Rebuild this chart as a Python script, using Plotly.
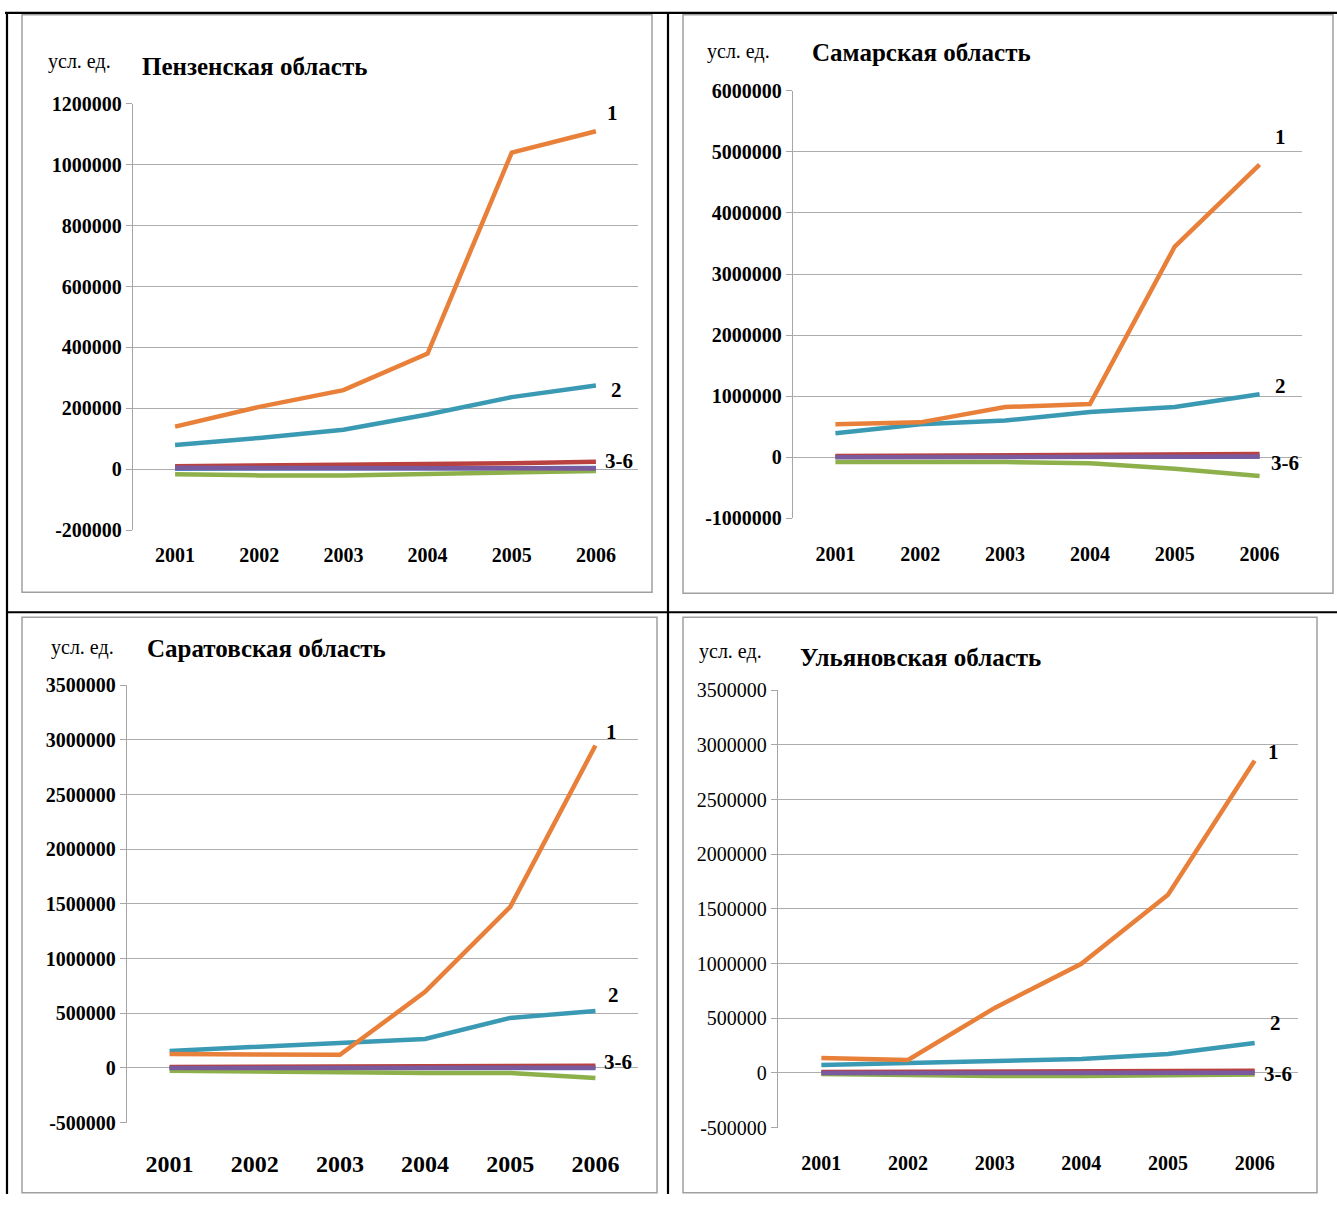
import plotly.graph_objects as go

W, H = 1337, 1205

years = [2001, 2002, 2003, 2004, 2005, 2006]
year_labels = ["2001", "2002", "2003", "2004", "2005", "2006"]

# Пензенская область
penza_1 = [140000, 205000, 260000, 380000, 1040000, 1110000]
penza_2 = [80000, 103000, 130000, 180000, 237000, 275000]
penza_3 = [2000, 2000, 3000, 3000, 4000, 4000]
penza_4 = [10000, 12000, 14000, 16000, 20000, 25000]
penza_5 = [-16000, -20000, -20000, -16000, -10000, -6000]
penza_6 = [5000, 5000, 5000, 4000, 4000, 3000]
penza_ticks = [-200000, 0, 200000, 400000, 600000, 800000, 1000000, 1200000]

# Самарская область
samara_1 = [540000, 570000, 820000, 870000, 3450000, 4790000]
samara_2 = [390000, 540000, 600000, 740000, 820000, 1030000]
samara_3 = [5000, 5000, 5000, 5000, 5000, 5000]
samara_4 = [20000, 25000, 30000, 35000, 45000, 50000]
samara_5 = [-80000, -80000, -80000, -100000, -190000, -310000]
samara_6 = [0, 0, 5000, 5000, 10000, 10000]
samara_ticks = [-1000000, 0, 1000000, 2000000, 3000000, 4000000, 5000000, 6000000]

# Саратовская область
saratov_1 = [128000, 125000, 120000, 696000, 1474000, 2949000]
saratov_2 = [156000, 192000, 229000, 266000, 458000, 522000]
saratov_3 = [0, 0, 0, 0, 0, 0]
saratov_4 = [10000, 12000, 14000, 15000, 18000, 20000]
saratov_5 = [-25000, -35000, -40000, -45000, -45000, -92000]
saratov_6 = [0, 0, 0, 0, 2000, 2000]
saratov_ticks = [-500000, 0, 500000, 1000000, 1500000, 2000000, 2500000, 3000000, 3500000]

# Ульяновская область
ulyan_1 = [137000, 119000, 595000, 998000, 1630000, 2857000]
ulyan_2 = [73000, 92000, 110000, 128000, 174000, 275000]
ulyan_3 = [0, 0, 0, 0, 0, 0]
ulyan_4 = [10000, 10000, 12000, 14000, 18000, 20000]
ulyan_5 = [-10000, -20000, -27000, -27000, -20000, -15000]
ulyan_6 = [0, 0, 0, 0, 2000, 2000]
ulyan_ticks = [-500000, 0, 500000, 1000000, 1500000, 2000000, 2500000, 3000000, 3500000]

titles = ["Пензенская область", "Самарская область", "Саратовская область", "Ульяновская область"]
unit_label = "усл. ед."
series_labels = ["1", "2", "3-6"]

# colors for series 3..6 then 2 and 1 (drawing order)
colors = ["#4A7EBB", "#B9413F", "#8DB04A", "#7A5A9E", "#3A9AB4", "#E8803A"]

SERIF = "Liberation Serif, Times New Roman, serif"

panels = [
    dict(data=[penza_3, penza_4, penza_5, penza_6, penza_2, penza_1], ticks=penza_ticks,
         px=(133, 638), py=(104, 530), frame=(22, 15, 652, 592),
         unit=(79, 62), title=(140, 67), ybold=True, xsize=20, standoff=11,
         labels=[(2006.2, 1170000), (2006.24, 259000), (2006.27, 26000)]),
    dict(data=[samara_3, samara_4, samara_5, samara_6, samara_2, samara_1], ticks=samara_ticks,
         px=(793, 1302), py=(91, 518), frame=(683, 15, 1333, 593),
         unit=(738, 52), title=(810, 53), ybold=True, xsize=20, standoff=22,
         labels=[(2006.25, 5246000), (2006.25, 1164000), (2006.3, -98000)]),
    dict(data=[saratov_3, saratov_4, saratov_5, saratov_6, saratov_2, saratov_1], ticks=saratov_ticks,
         px=(127, 638), py=(685, 1122), frame=(22, 617, 657, 1192),
         unit=(82, 647), title=(145, 648), ybold=True, xsize=24, standoff=24,
         labels=[(2006.19, 3077000), (2006.21, 669000), (2006.26, 55000)]),
    dict(data=[ulyan_3, ulyan_4, ulyan_5, ulyan_6, ulyan_2, ulyan_1], ticks=ulyan_ticks,
         px=(778, 1298), py=(690, 1127), frame=(683, 617, 1317, 1192),
         unit=(730, 651), title=(798, 657), ybold=False, xsize=20, standoff=21,
         labels=[(2006.22, 2940000), (2006.24, 458000), (2006.27, -9000)]),
]

# the page is photographed with a slight vertical offset/scale; compensate
Y_OFF, Y_SCALE = 11.2, 0.981


def fx(x):
    return x / W


def fy(y):
    return 1 - ((y - Y_OFF) / Y_SCALE) / H


fig = go.Figure()
shapes = []
annotations = []
layout_axes = {}

for i, p in enumerate(panels):
    n = "" if i == 0 else str(i + 1)
    xa, ya = "x" + n, "y" + n
    for k, (vals, col) in enumerate(zip(p["data"], colors)):
        fig.add_trace(go.Scatter(x=years, y=vals, mode="lines", xaxis=xa, yaxis=ya,
                                 line=dict(color=col, width=4.5), showlegend=False,
                                 hoverinfo="skip"))
    ymin, ymax = p["ticks"][0], p["ticks"][-1]
    layout_axes["xaxis" + n] = dict(
        domain=[fx(p["px"][0]), fx(p["px"][1])], anchor=ya, range=[2000.5, 2006.5],
        tickvals=years, ticktext=year_labels, showgrid=False, zeroline=False,
        showline=False, ticks="", ticklabelstandoff=p["standoff"],
        tickfont=dict(family=SERIF, size=p["xsize"], color="#000000", weight="bold"),
        fixedrange=True)
    layout_axes["yaxis" + n] = dict(
        domain=[max(0, fy(p["py"][1])), min(1, fy(p["py"][0]))], anchor=xa, range=[ymin, ymax],
        tickvals=p["ticks"], ticktext=[str(t) for t in p["ticks"]],
        showgrid=True, gridcolor="#ADADAD", gridwidth=1.3, zeroline=False,
        showline=True, linecolor="#A6A6A6", linewidth=1.3, ticks="outside",
        ticklen=6, tickcolor="#A6A6A6", tickwidth=1.3,
        tickfont=dict(family=SERIF, size=20, color="#000000",
                      weight="bold" if p["ybold"] else "normal"),
        fixedrange=True)
    # chart frame
    x0, y0, x1, y1 = p["frame"]
    shapes.append(dict(type="rect", xref="paper", yref="paper",
                       x0=fx(x0), x1=fx(x1), y0=fy(y1), y1=fy(y0),
                       line=dict(color="#A0A0A0", width=1.5), layer="below"))
    # unit & title
    annotations.append(dict(text=unit_label, xref="paper", yref="paper",
                            x=fx(p["unit"][0]), y=fy(p["unit"][1]),
                            xanchor="center", yanchor="middle", showarrow=False,
                            font=dict(family=SERIF, size=20, color="#000000")))
    annotations.append(dict(text=titles[i], xref="paper", yref="paper",
                            x=fx(p["title"][0]), y=fy(p["title"][1]),
                            xanchor="left", yanchor="middle", showarrow=False,
                            font=dict(family=SERIF, size=25, color="#000000", weight="bold")))
    for lab, (lx, ly) in zip(series_labels, p["labels"]):
        annotations.append(dict(text=lab, xref=xa, yref=ya, x=lx, y=ly,
                                xanchor="center", yanchor="middle", showarrow=False,
                                font=dict(family=SERIF, size=21, color="#000000", weight="bold")))

# table lines (paper y of bottom clipped to 0)
table_lines = [
    (5, 13, W, 13), (7, 13, 7, None), (668, 13, 668, None), (7, 612, W, 612),
]
for (x0, y0, x1, y1) in table_lines:
    shapes.append(dict(type="line", xref="paper", yref="paper",
                       x0=fx(x0), x1=fx(x1), y0=fy(y0),
                       y1=0 if y1 is None else fy(y1),
                       line=dict(color="#000000", width=2.2)))

fig.update_layout(
    width=W, height=H, autosize=False,
    margin=dict(l=0, r=0, t=0, b=0),
    paper_bgcolor="#FFFFFF", plot_bgcolor="rgba(0,0,0,0)",
    shapes=shapes, annotations=annotations, showlegend=False,
    **layout_axes,
)

# place the figure at the very top-left of the page (no body margin / scrollbars)
page_fix = (
    "document.documentElement.style.margin='0';"
    "document.documentElement.style.overflow='hidden';"
    "document.body.style.margin='0';"
    "document.body.style.overflow='hidden';"
    "var d=document.getElementById('{plot_id}');"
    "d.style.position='absolute';d.style.left='0px';d.style.top='0px';"
)

fig.write_html("out.html", config={"displayModeBar": False}, post_script=page_fix)
